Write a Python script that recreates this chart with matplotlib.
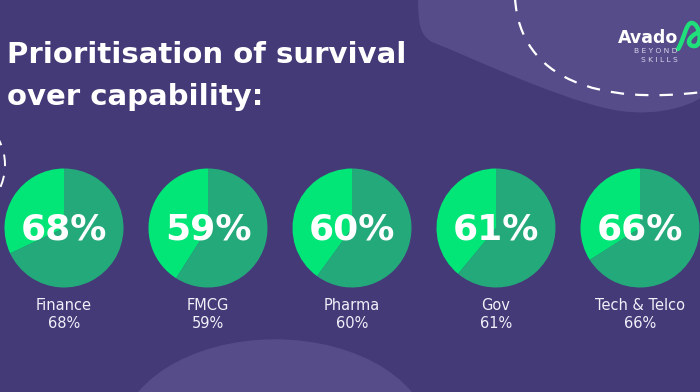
import matplotlib.pyplot as plt
from matplotlib.patches import Ellipse, Arc, PathPatch
from matplotlib.path import Path
import numpy as np

plt.rcParams['font.family'] = ['DejaVu Sans']

# Data
categories = ['Finance', 'FMCG', 'Pharma', 'Gov', 'Tech & Telco']
values = [68, 59, 60, 61, 66]

bg = '#443a78'
blob = '#574c8a'
dark_green = '#24aa7a'
bright_green = '#02e677'

W, H = 700, 392
fig = plt.figure(figsize=(7, 3.92), dpi=100, facecolor=bg)

# Background axes in pixel coordinates (y down)
bgax = fig.add_axes([0, 0, 1, 1])
bgax.set_xlim(0, W)
bgax.set_ylim(H, 0)
bgax.axis('off')

C4, L2, M = Path.CURVE4, Path.LINETO, Path.MOVETO

# decorative blobs
blob_path = Path(
    [(418, -5), (418, 25), (420, 35), (432, 42),
     (470, 57), (550, 95), (605, 108),
     (645, 118), (685, 110), (705, 95),
     (705, -5), (418, -5)],
    [M, C4, C4, C4, C4, C4, C4, C4, C4, C4, L2, Path.CLOSEPOLY])
bgax.add_patch(PathPatch(blob_path, fc=blob, ec='none', zorder=0))
bgax.add_patch(Ellipse((275, 440), 310, 200, color=blob, zorder=0))

# dashed curves
dash_path = Path([(515, -2), (520, 80), (600, 105), (702, 92)],
                 [M, C4, C4, C4])
bgax.add_patch(PathPatch(dash_path, fc='none', ec='white', lw=1.6,
                         ls=(0, (6, 5)), zorder=1))
bgax.add_patch(Arc((-40, 165), 90, 100, theta1=-40, theta2=60, color='white',
                   lw=1.4, ls=(0, (6, 5)), zorder=1))

# title
bgax.text(7, 63, 'Prioritisation of survival', color='white', fontsize=21,
          fontweight='bold', ha='left', va='baseline')
bgax.text(7, 105, 'over capability:', color='white', fontsize=21,
          fontweight='bold', ha='left', va='baseline')

# logo
bgax.text(618, 43, 'Avado', color='white', fontsize=12.5, fontweight='bold',
          ha='left', va='baseline')
bgax.text(656, 53, 'B E Y O N D', color='#d8d4ea', fontsize=5.4, ha='center',
          va='baseline')
bgax.text(659, 62, 'S K I L L S', color='#d8d4ea', fontsize=5.4, ha='center',
          va='baseline')
logo_path = Path([(678, 49), (684, 40), (686, 22), (692, 23),
                  (700, 24), (703, 45), (695, 46),
                  (688, 47), (684, 38), (701, 31)],
                 [M, C4, C4, C4, C4, C4, C4, C4, C4, C4])
bgax.add_patch(PathPatch(logo_path, fc='none', ec='#1fe07a', lw=3.2,
                         capstyle='round', zorder=2))

# pies
centers = [64, 208, 352, 496, 640]
cy = 228
r = 59.5
for cx, cat, v in zip(centers, categories, values):
    ax = fig.add_axes([(cx - r) / W, (H - cy - r) / H, 2 * r / W, 2 * r / H])
    ax.pie([v, 100 - v], colors=[dark_green, bright_green], startangle=90,
           counterclock=False, radius=1,
           wedgeprops=dict(linewidth=0))
    ax.set_xlim(-1, 1)
    ax.set_ylim(-1, 1)
    ax.set_aspect('auto')
    ax.axis('off')
    ax.text(0, -0.03, f'{v}%', color='white', fontsize=26, fontweight='bold',
            ha='center', va='center')
    bgax.text(cx, 305, cat, color='#f1eff8', fontsize=10.5, ha='center',
              va='center')
    bgax.text(cx, 324, f'{v}%', color='#f1eff8', fontsize=10.5, ha='center',
              va='center')

fig.savefig('out.png', dpi=100, facecolor=bg)
